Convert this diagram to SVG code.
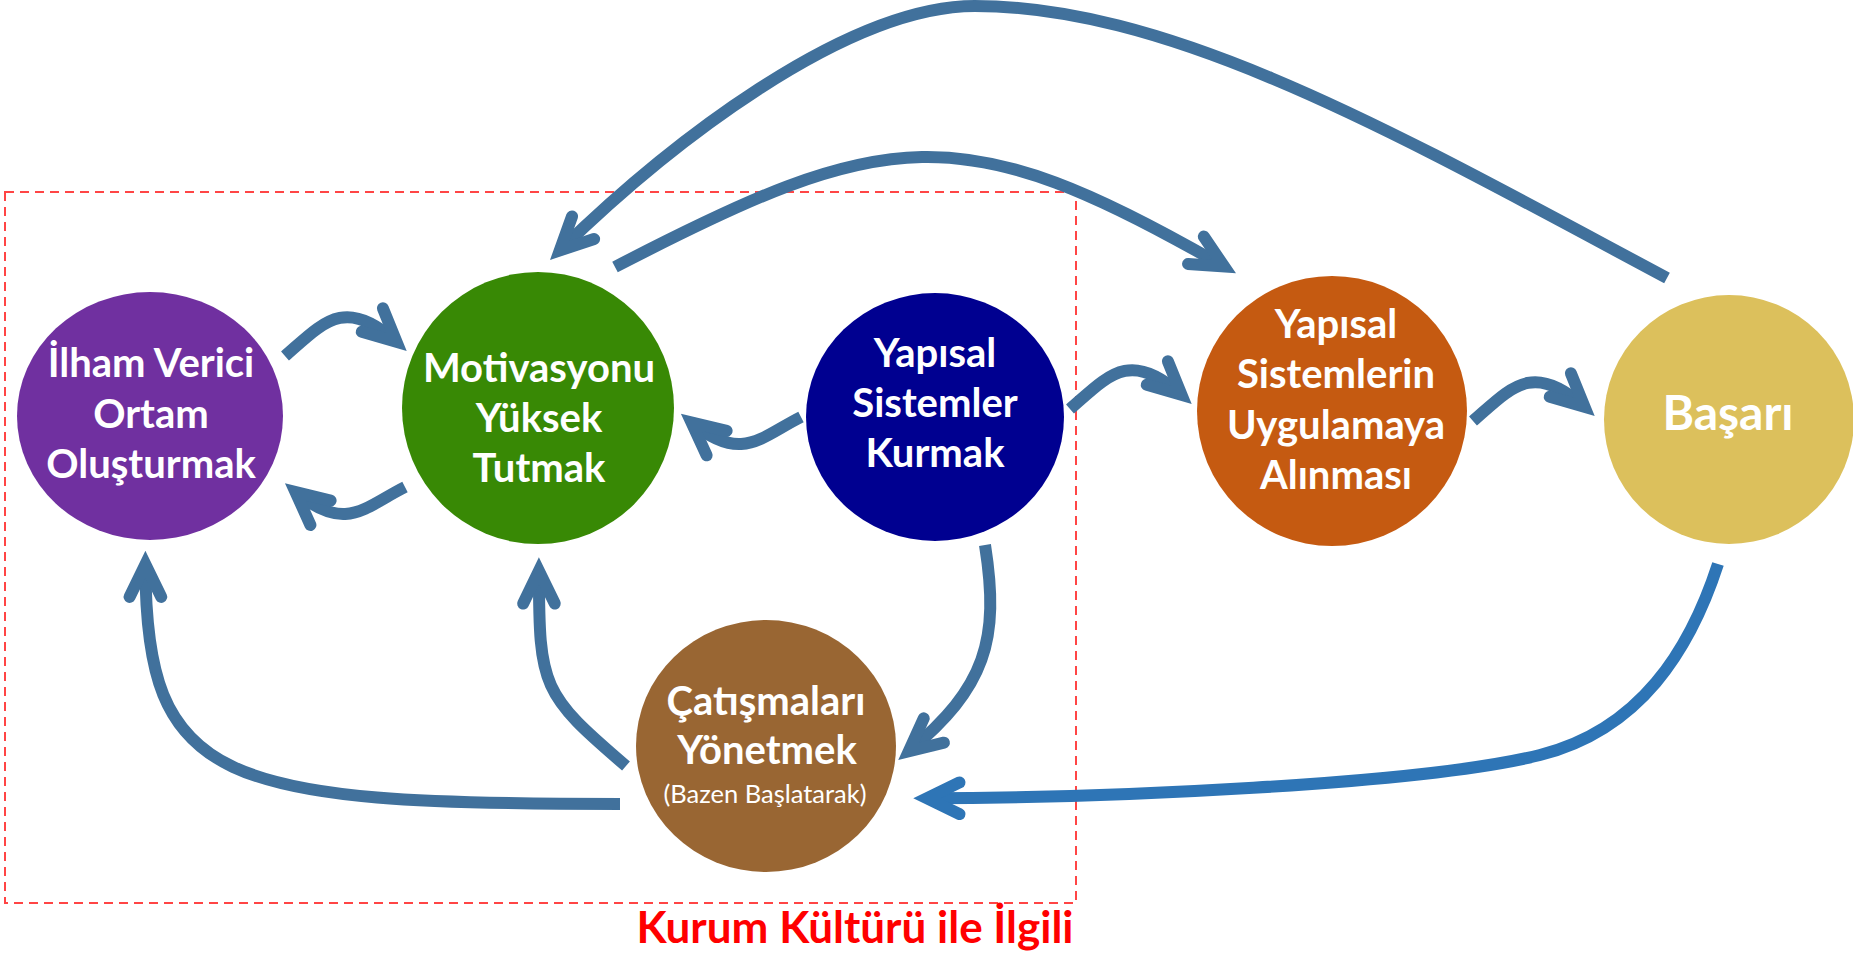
<svg xmlns="http://www.w3.org/2000/svg" width="1853" height="953" viewBox="0 0 1853 953">
<style>
.node-t{font-family:Lato,"Open Sans","Liberation Sans",sans-serif;font-weight:700;font-size:40px;fill:#fff;text-anchor:middle}
.sub-t{font-family:Lato,"Open Sans","Liberation Sans",sans-serif;font-weight:400;font-size:25.5px;fill:#fff;text-anchor:middle}
.conn{fill:none;stroke:#41719C;stroke-width:12;stroke-linecap:butt;marker-end:url(#ah)}
.conn2{fill:none;stroke:#2E75B6;stroke-width:12;stroke-linecap:butt;marker-end:url(#ah2)}
</style>
<defs>
<marker id="ah" markerUnits="userSpaceOnUse" markerWidth="10" markerHeight="10" refX="0" refY="0" orient="auto" overflow="visible">
<path d="M -32.5 -15.8 L 0 0 L -32.5 15.8" fill="none" stroke="#41719C" stroke-width="12" stroke-linecap="round" stroke-linejoin="miter"/>
</marker>
<marker id="ah2" markerUnits="userSpaceOnUse" markerWidth="10" markerHeight="10" refX="0" refY="0" orient="auto" overflow="visible">
<path d="M -32.5 -15.8 L 0 0 L -32.5 15.8" fill="none" stroke="#2E75B6" stroke-width="12" stroke-linecap="round" stroke-linejoin="miter"/>
</marker>
</defs>
<rect width="1853" height="953" fill="#fff"/>
<g id="culture-frame">
<rect x="5" y="192" width="1071" height="711" fill="none" stroke="#FF4545" stroke-width="2" stroke-dasharray="9 6"/>
<text x="855" y="943" font-family="Lato,'Open Sans','Liberation Sans',sans-serif" font-weight="700" font-size="44" fill="#FF0000" text-anchor="middle">Kurum Kültürü ile İlgili</text>
</g>
<g id="connectors">
<path class="conn" d="M 285 356 C 322.8 323.2, 344.4 295, 396.5 341.8"/>
<path class="conn" d="M 405 487 C 364.8 507.1, 345.5 533.5, 295.5 492"/>
<path class="conn" d="M 801 417 C 760.8 437.1, 741.5 463.5, 691.5 422.5"/>
<path class="conn" d="M 1070 409 C 1107.8 376.2, 1129.4 348, 1181.5 394.8"/>
<path class="conn" d="M 1473 421 C 1510.8 388.2, 1532.4 360, 1584.5 406.8"/>
<path class="conn" d="M 615 267 C 885.8 126.7, 959.9 114, 1224.1 266.5"/>
<path class="conn" d="M 1667 278 C 1403 137, 1175 6, 975 6 C 845 6, 667.2 145.6, 559.8 250.4"/>
<path class="conn" d="M 985 545 C 1000 640, 985.7 687.4, 908.8 751.3"/>
<path class="conn" d="M 626 766 C 542 694, 539 688, 538.9 571"/>
<path class="conn" d="M 620 804 C 220 804, 145.4 784.4, 145.4 564.4"/>
<path class="conn2" d="M 1718 564 C 1690 650, 1640 730, 1540 755 C 1420 785, 1100 798, 927 798.3"/>
</g>
<g id="ilham">
<ellipse cx="150" cy="416" rx="133" ry="124" fill="#7030A0"/>
<text class="node-t" x="151" y="377">İlham Verici</text>
<text class="node-t" x="151" y="428">Ortam</text>
<text class="node-t" x="151" y="478">Oluşturmak</text>
</g>
<g id="motivasyon">
<ellipse cx="538" cy="408" rx="136" ry="136" fill="#388905"/>
<text class="node-t" x="539" y="382">Motivasyonu</text>
<text class="node-t" x="539" y="432">Yüksek</text>
<text class="node-t" x="539" y="482">Tutmak</text>
</g>
<g id="yapisal-kurmak">
<ellipse cx="935" cy="417" rx="129" ry="124" fill="#000090"/>
<text class="node-t" x="935" y="367">Yapısal</text>
<text class="node-t" x="935" y="417">Sistemler</text>
<text class="node-t" x="935" y="467">Kurmak</text>
</g>
<g id="uygulama">
<ellipse cx="1332" cy="411" rx="135" ry="135" fill="#C55A11"/>
<text class="node-t" x="1336" y="338">Yapısal</text>
<text class="node-t" x="1336" y="388">Sistemlerin</text>
<text class="node-t" x="1336" y="439">Uygulamaya</text>
<text class="node-t" x="1336" y="489">Alınması</text>
</g>
<g id="basari">
<ellipse cx="1729" cy="419.5" rx="125" ry="124.5" fill="#DCC05C"/>
<text class="node-t" x="1728" y="430" style="font-size:48px">Başarı</text>
</g>
<g id="catisma">
<ellipse cx="766" cy="746" rx="130" ry="126" fill="#996633"/>
<text class="node-t" x="766" y="715">Çatışmaları</text>
<text class="node-t" x="767" y="764">Yönetmek</text>
<text class="sub-t" x="765" y="803">(Bazen Başlatarak)</text>
</g>
</svg>
